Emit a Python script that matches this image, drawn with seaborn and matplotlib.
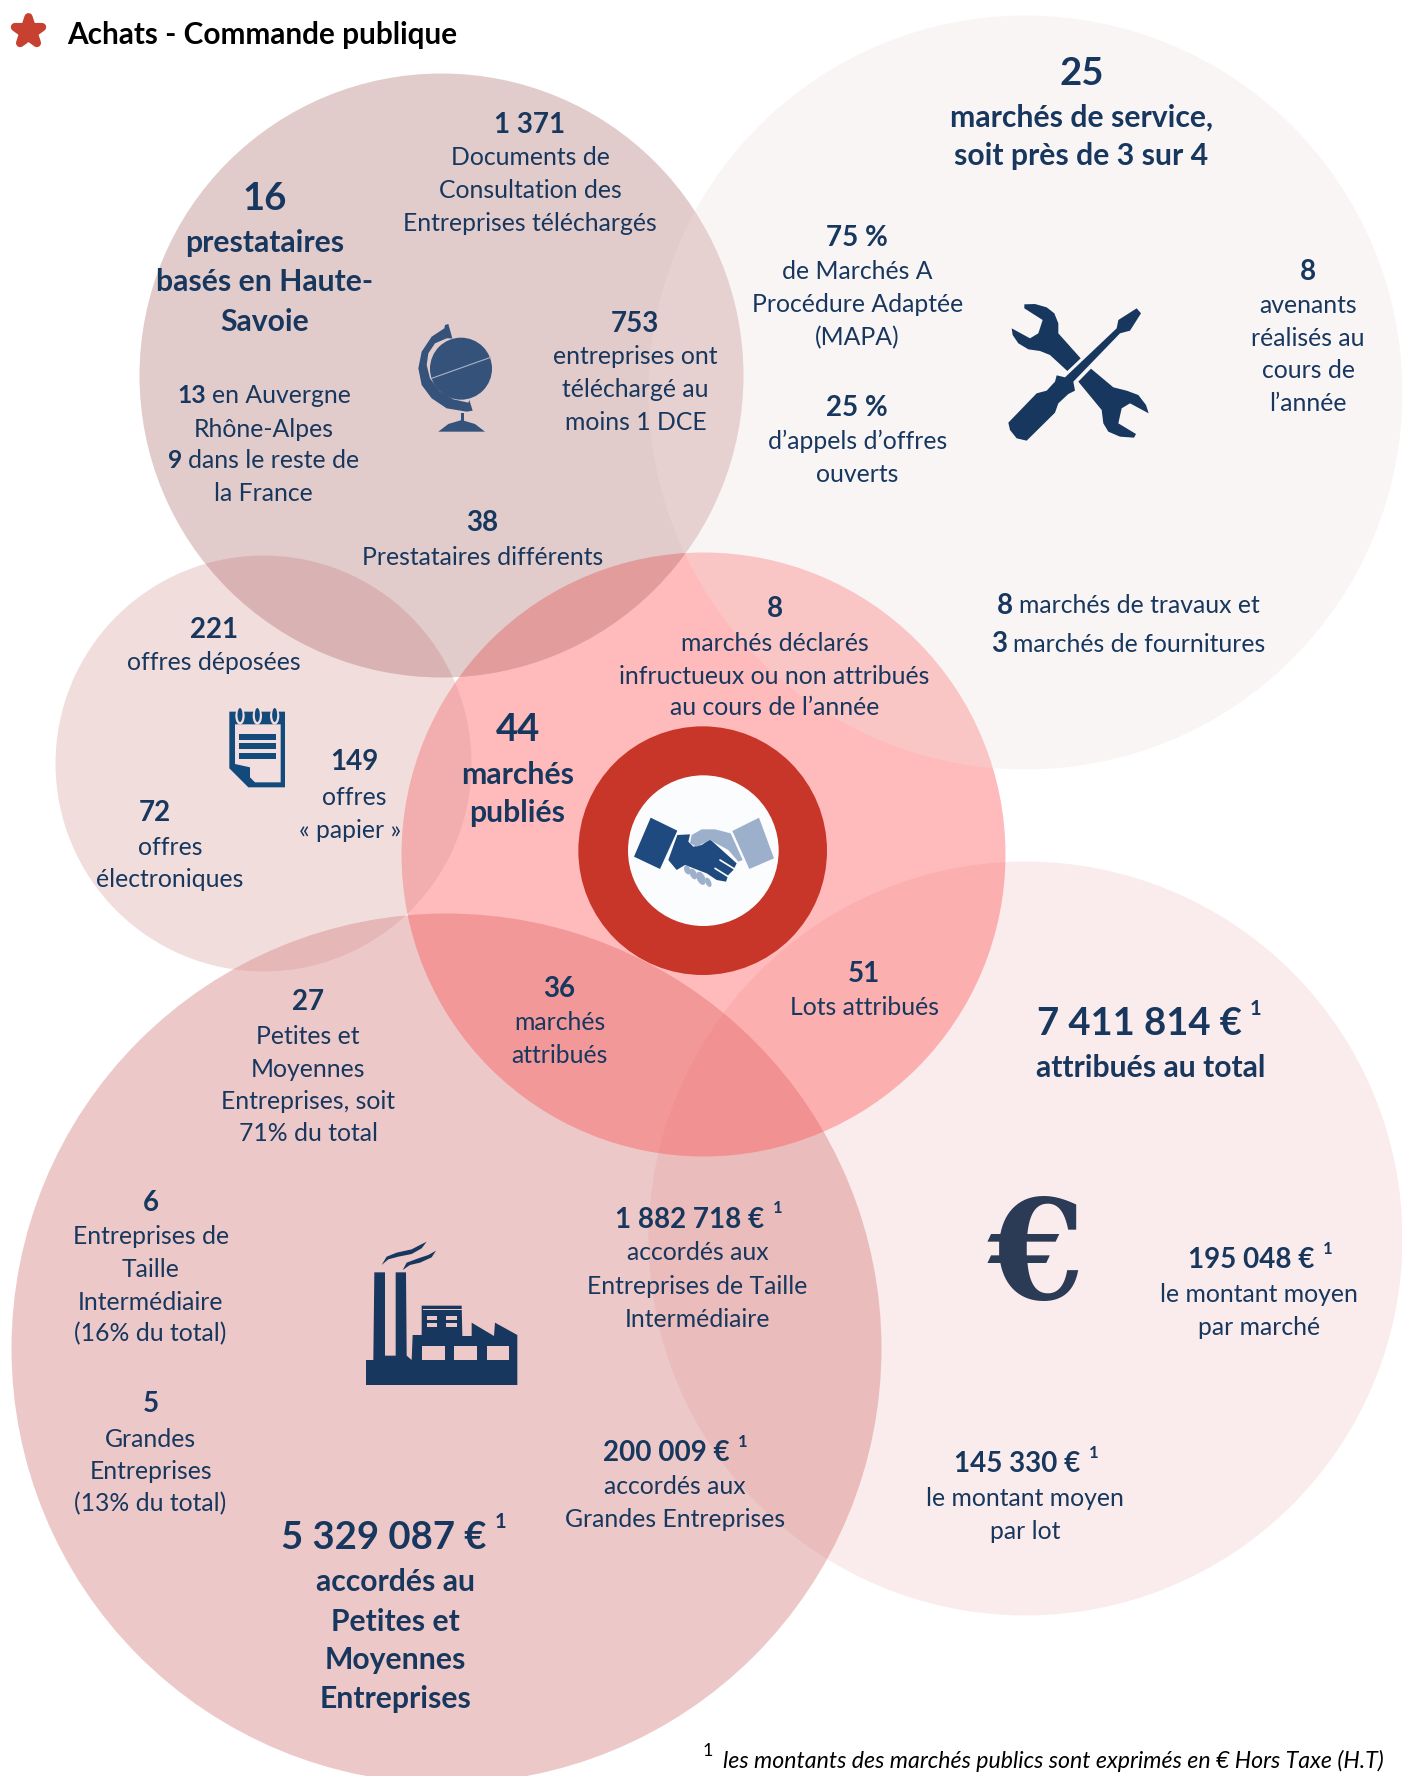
import matplotlib
matplotlib.use('Agg')
import matplotlib.pyplot as plt
from matplotlib.patches import Circle, Ellipse, Polygon, Rectangle
import seaborn as sns

sns.set_theme(style='white')
plt.rcParams['font.family'] = ['Lato', 'DejaVu Sans']

NAVY = '#17375E'
K = 1402 / 1238  # labels below were read on the 1238 px wide picture
DY = 2  # Lato sits a bit higher than the original font
DY_BODY = 1

# circles, drawn from back to front
circle_x = [1025, 446, 703, 263, 441, 1025]
circle_y = [1238, 1348, 854, 763, 375, 392]
circle_r = [377, 435, 302, 208, 302, 377]
circle_color = ['#EFB7B7', '#D27676', '#FF4C4C', '#D49191', '#A05555', '#F0DEDE']
circle_alpha = [0.25, 0.40, 0.38, 0.30, 0.30, 0.30]

title = 'Achats - Commande publique'
footnote = 'les montants des marchés publics sont exprimés en € Hors Taxe (H.T)'

big_labels = [
    (234, 174, '16'), (955, 63, '25'), (457, 643, '44'),
    (1006, 902, '7 411 814 €'), (339, 1356, '5 329 087 €'),
]
mid_labels = [
    (234, 214, 'prestataires'), (234, 248, 'basés en Haute-'), (234, 283, 'Savoie'),
    (955, 103, 'marchés de service,'), (955, 137, 'soit près de 3 sur 4'),
    (457, 683, 'marchés'), (457, 717, 'publiés'),
    (1016, 942, 'attribués au total'),
    (349, 1396, 'accordés au'), (349, 1431, 'Petites et'),
    (349, 1465, 'Moyennes'), (349, 1499, 'Entreprises'),
]
number_labels = [
    (468, 108, '1 371'), (561, 284, '753'), (426, 460, '38'), (757, 208, '75 %'),
    (757, 358, '25 %'), (1155, 238, '8'), (684, 536, '8'), (189, 554, '221'),
    (313, 671, '149'), (137, 716, '72'), (494, 871, '36'), (763, 858, '51'),
    (272, 883, '27'), (133, 1060, '6'), (133, 1238, '5'),
    (609, 1075, '1 882 718 €'), (588, 1281, '200 009 €'),
    (1105, 1111, '195 048 €'), (898, 1291, '145 330 €'),
]
body_labels = [
    (233, 378, 'Rhône-Alpes'), (233, 435, 'la France'),
    (468, 138, 'Documents de'), (468, 167, 'Consultation des'),
    (468, 196, 'Entreprises téléchargés'),
    (561, 314, 'entreprises ont'), (561, 343, 'téléchargé au'), (561, 372, 'moins 1 DCE'),
    (426, 491, 'Prestataires différents'),
    (757, 239, 'de Marchés A'), (757, 268, 'Procédure Adaptée'), (757, 297, '(MAPA)'),
    (757, 389, 'd’appels d’offres'), (757, 418, 'ouverts'),
    (1155, 269, 'avenants'), (1155, 298, 'réalisés au'), (1155, 326, 'cours de'),
    (1155, 355, 'l’année'),
    (684, 567, 'marchés déclarés'), (684, 596, 'infructueux ou non attribués'),
    (684, 624, 'au cours de l’année'),
    (189, 584, 'offres déposées'), (313, 703, 'offres'), (309, 732, '« papier »'),
    (150, 747, 'offres'), (150, 776, 'électroniques'),
    (494, 902, 'marchés'), (494, 931, 'attribués'), (763, 889, 'Lots attribués'),
    (272, 914, 'Petites et'), (272, 943, 'Moyennes'), (272, 972, 'Entreprises, soit'),
    (272, 1000, '71% du total'),
    (133, 1091, 'Entreprises de'), (133, 1120, 'Taille'), (133, 1149, 'Intermédiaire'),
    (133, 1177, '(16% du total)'),
    (133, 1270, 'Grandes'), (133, 1298, 'Entreprises'), (133, 1327, '(13% du total)'),
    (616, 1105, 'accordés aux'), (616, 1135, 'Entreprises de Taille'),
    (616, 1164, 'Intermédiaire'),
    (596, 1312, 'accordés aux'), (596, 1341, 'Grandes Entreprises'),
    (1112, 1142, 'le montant moyen'), (1112, 1171, 'par marché'),
    (905, 1322, 'le montant moyen'), (905, 1351, 'par lot'),
]
# lines with a bold number and then normal text
mixed_labels = [
    (233, 348, '13', 'en Auvergne'), (233, 406, '9', 'dans le reste de'),
    (996, 534, '8', 'marchés de travaux et'), (996, 568, '3', 'marchés de fournitures'),
]
# the small 1 after the amounts
sup_labels = [
    (1109, 889, 14.5), (442, 1342, 14.5), (687, 1065, 12), (656, 1271, 12),
    (1172, 1101, 12), (966, 1281, 12),
]

BIG, MID, NUM, BODY = 27.5, 21.7, 20, 17.8

fig = plt.figure(figsize=(14.02, 17.76), dpi=100)
ax = fig.add_axes([0, 0, 1, 1])

for i in range(len(circle_x)):
    d = 2 * circle_r[i] * 0.72
    sns.scatterplot(x=[circle_x[i]], y=[circle_y[i]], s=d * d, color=circle_color[i],
                    alpha=circle_alpha[i], linewidth=0, legend=False, ax=ax, zorder=i + 1)

ax.set_xlim(0, 1402)
ax.set_ylim(1776, 0)
ax.axis('off')


def poly(points, ox, oy, scale, color, z=12):
    pts = [(ox + p[0] / scale, oy + p[1] / scale) for p in points]
    ax.add_patch(Polygon(pts, closed=True, facecolor=color, edgecolor='none', zorder=z))


def box(x0, y0, x1, y1, ox, oy, scale, color, z=13):
    ax.add_patch(Rectangle((ox + x0 / scale, oy + y0 / scale), (x1 - x0) / scale, (y1 - y0) / scale,
                           facecolor=color, edgecolor='none', zorder=z))


# red ring and handshake
ax.add_patch(Circle((560 + 428 / 3, 700 + 452 / 3), 373 / 3, color='#C8362A', lw=0, zorder=10))
ax.add_patch(Circle((560 + 430 / 3, 700 + 452 / 3), 226 / 3, color='#FBFCFD', lw=0, zorder=11))
hs = (560, 700, 3)
HDARK, HLIGHT = '#1F4A80', '#9DB0CB'
poly([(272, 353), (352, 392), (300, 507), (222, 470)], *hs, HDARK)
poly([(597, 353), (642, 475), (568, 507), (517, 393)], *hs, HLIGHT)
poly([(352, 405), (390, 403), (385, 425), (400, 440), (425, 435), (450, 418), (530, 490), (520, 510),
      (505, 525), (498, 545), (470, 540), (440, 520), (375, 495), (350, 510), (325, 480)], *hs, HDARK)
poly([(395, 405), (425, 388), (465, 388), (512, 400), (548, 480), (535, 485), (505, 450), (450, 420),
      (410, 440), (390, 430)], *hs, HLIGHT, z=13)
for fx, fy, fw, fh in [(382, 510, 18, 28), (400, 522, 20, 34), (423, 535, 24, 42), (445, 547, 16, 30)]:
    ax.add_patch(Ellipse((560 + fx / 3, 700 + fy / 3), fw / 3, fh / 3, angle=-25, color=HLIGHT, lw=0, zorder=13))
ax.plot([560 + 480 / 3, 560 + 525 / 3], [700 + 480 / 3, 700 + 508 / 3], color='white', lw=1.2, zorder=14)
ax.plot([560 + 465 / 3, 560 + 505 / 3], [700 + 505 / 3, 700 + 530 / 3], color='white', lw=1.2, zorder=14)

# globe
GLOBE = '#34527A'
gl = (400, 310, 3)
ax.add_patch(Circle((400 + 183 / 3, 310 + 176 / 3), 93 / 3, color=GLOBE, lw=0, zorder=12))
poly([(133, 55), (95, 80), (65, 125), (55, 175), (65, 225), (95, 265), (140, 295), (200, 305), (218, 302),
      (208, 270), (205, 278), (160, 268), (120, 245), (90, 205), (80, 165), (85, 130), (105, 100), (140, 85),
      (157, 85), (145, 42), (135, 45)], *gl, GLOBE)
box(182, 308, 192, 332, *gl, GLOBE, z=12)
poly([(115, 365), (145, 342), (185, 330), (225, 342), (255, 365)], *gl, GLOBE)
ax.plot([400 + 95 / 3, 400 + 272 / 3], [310 + 205 / 3, 310 + 142 / 3], color='#A9B4C6', lw=0.8, zorder=13)

# tools
tl = (960, 270, 3)
poly([(193, 103), (225, 102), (260, 112), (283, 130), (295, 160), (295, 190), (362, 265), (322, 303), (270, 255),
      (240, 243), (205, 238), (175, 220), (158, 195), (155, 175), (210, 205), (235, 190), (248, 150), (193, 115)], *tl, NAVY)
poly([(393, 296), (460, 352), (500, 362), (535, 375), (558, 405), (566, 430), (510, 400), (485, 415), (475, 460),
      (528, 492), (522, 503), (480, 500), (445, 485), (430, 460), (425, 420), (355, 335)], *tl, NAVY)
poly([(530, 115), (543, 130), (510, 182), (480, 190), (340, 335), (345, 362), (325, 372), (295, 400), (285, 428),
      (200, 512), (170, 505), (150, 480), (145, 458), (230, 370), (260, 362), (285, 335), (290, 316), (315, 322),
      (470, 175), (475, 150)], *tl, NAVY)

# factory
fa = (340, 1210, 3)
FBG = '#EEC9CA'
poly([(78, 450), (100, 450), (103, 187), (135, 187), (135, 437), (167, 437), (167, 187), (198, 187), (200, 437),
      (215, 450), (218, 375), (245, 375), (245, 287), (365, 287), (367, 378), (395, 378), (395, 338), (462, 378),
      (465, 338), (532, 375), (532, 525), (78, 525)], *fa, NAVY)
for b in [(245, 408, 315, 450), (343, 408, 411, 450), (440, 408, 508, 450), (260, 318, 292, 330),
          (318, 318, 352, 330), (260, 338, 292, 350), (318, 338, 352, 350), (248, 298, 365, 300)]:
    box(*b, *fa, FBG)
poly([(125, 165), (140, 140), (170, 128), (215, 118), (240, 105), (260, 95), (245, 115), (215, 132), (175, 140), (145, 148)], *fa, NAVY)
poly([(188, 180), (200, 158), (235, 145), (265, 135), (288, 122), (275, 142), (240, 158), (210, 165)], *fa, NAVY)

# notepad
nb = (200, 690, 3)
NBLUE, NBG = '#134A7C', '#F2DEDF'
poly([(88, 65), (255, 65), (255, 292), (145, 292), (88, 235)], *nb, NBLUE)
poly([(105, 103), (242, 103), (242, 277), (165, 277), (150, 262), (150, 232), (105, 222)], *nb, NBG, z=13)
for y0 in [132, 160, 190]:
    box(118, y0, 228, y0 + 18, *nb, NBLUE, z=14)
for rx in [120, 172, 224]:
    ax.add_patch(Ellipse((200 + rx / 3, 690 + 78 / 3), 28 / 3, 52 / 3, color=NBG, lw=0, zorder=13))
    ax.add_patch(Ellipse((200 + rx / 3, 690 + 75 / 3), 15 / 3, 42 / 3, color=NBLUE, lw=0, zorder=14))

# star and title
sns.scatterplot(x=[27.5], y=[31], marker='*', s=420, color='#C8402F', edgecolor='#C8402F',
                linewidth=6, legend=False, ax=ax, zorder=12)
ax.set_xlim(0, 1402)
ax.set_ylim(1776, 0)
ax.text(59 * K, (29 + DY) * K, title, fontsize=21.4, fontweight='bold', color='black', va='center', zorder=20)

for x, y, s in big_labels:
    ax.text(x * K, (y + DY) * K, s, fontsize=BIG, fontweight='bold', color=NAVY, ha='center', va='center', zorder=20)
for x, y, s in mid_labels:
    ax.text(x * K, (y + DY_BODY) * K, s, fontsize=MID, fontweight='bold', color=NAVY, ha='center', va='center', zorder=20)
for x, y, s in number_labels:
    ax.text(x * K, (y + DY) * K, s, fontsize=NUM, fontweight='bold', color=NAVY, ha='center', va='center', zorder=20)
for x, y, s in body_labels:
    ax.text(x * K, (y + DY_BODY) * K, s, fontsize=BODY, color=NAVY, ha='center', va='center', zorder=20)

renderer = fig.canvas.get_renderer()
for x, y, bold, rest in mixed_labels:
    bold_size = BODY if x < 500 else NUM
    t1 = ax.text(0, (y + DY_BODY) * K, bold, fontsize=bold_size, fontweight='bold', color=NAVY, va='center', zorder=20)
    t2 = ax.text(0, (y + DY_BODY) * K, rest, fontsize=BODY, color=NAVY, va='center', zorder=20)
    w1 = t1.get_window_extent(renderer).width
    w2 = t2.get_window_extent(renderer).width
    gap = 6
    left = x * K - (w1 + gap + w2) / 2
    t1.set_x(left)
    t2.set_x(left + w1 + gap)

for x, y, size in sup_labels:
    ax.text(x * K, (y + DY) * K, '1', fontsize=size, fontweight='bold', color=NAVY, ha='center', va='center', zorder=20)

ax.text(625 * K, (1544 + DY) * K, '1', fontsize=13, color='black', ha='center', va='center', zorder=20)
ax.text(1222 * K, (1553 + DY) * K, footnote, fontsize=16.7, style='italic', color='black', ha='right', va='center', zorder=20)
ax.text(1036, 1261, '€', fontsize=100, fontweight='bold', family='DejaVu Serif', color='#2B3A55',
        ha='center', va='center', zorder=20)

fig.savefig('out.png', dpi=100)
